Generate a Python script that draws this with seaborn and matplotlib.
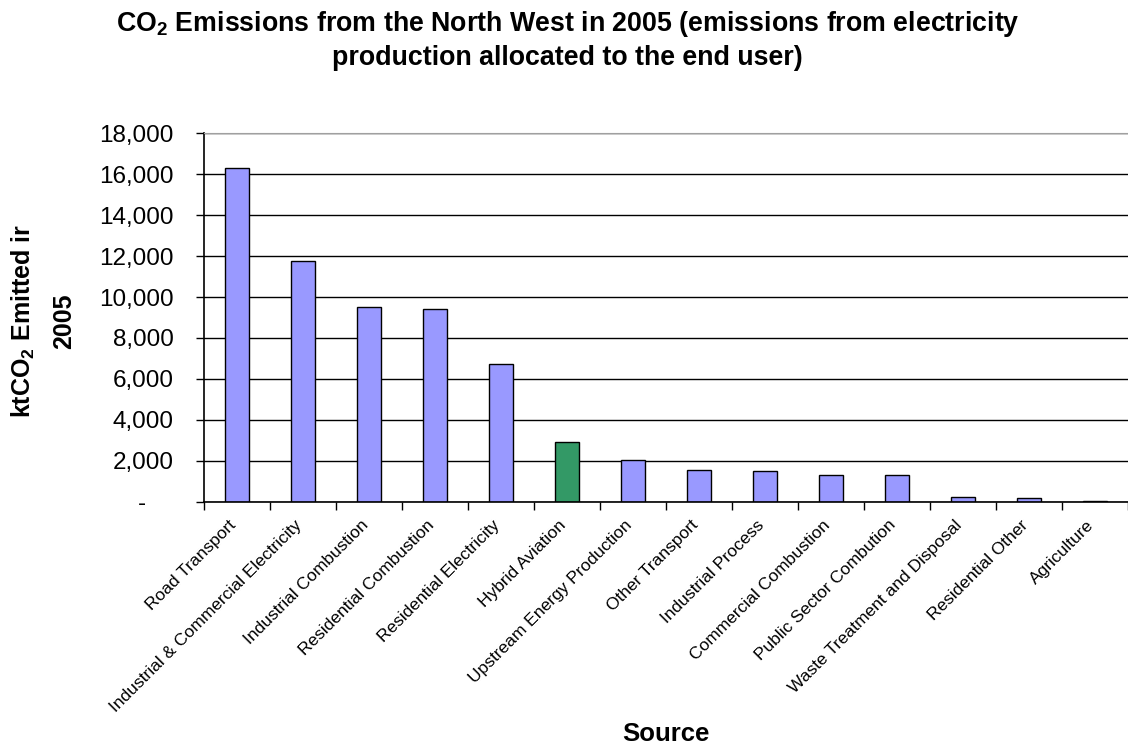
import numpy as np
import matplotlib
matplotlib.use("Agg")
import matplotlib.pyplot as plt
import seaborn as sns

# CO2 emissions by source, North West 2005 (ktCO2)
categories = [
    "Road Transport",
    "Industrial & Commercial Electricity",
    "Industrial Combustion",
    "Residential Combustion",
    "Residential Electricity",
    "Hybrid Aviation",
    "Upstream Energy Production",
    "Other Transport",
    "Industrial Process",
    "Commercial Combustion",
    "Public Sector Combution",
    "Waste Treatment and Disposal",
    "Residential Other",
    "Agriculture",
]
emissions = [16310, 11770, 9500, 9430, 6730, 2940, 2050, 1570, 1500,
             1310, 1300, 255, 190, 60]
bar_colors = ["#9999FF"] * 5 + ["#339966"] + ["#9999FF"] * 8
y_ticks = list(range(0, 18001, 2000))

sns.set_style("white")
plt.rcParams["font.family"] = ["Liberation Sans", "DejaVu Sans"]
plt.rcParams["text.color"] = "black"
plt.rcParams["axes.labelcolor"] = "black"
plt.rcParams["xtick.color"] = "black"
plt.rcParams["ytick.color"] = "black"
plt.rcParams["mathtext.fontset"] = "custom"
plt.rcParams["mathtext.rm"] = "Liberation Sans"
plt.rcParams["mathtext.bf"] = "Liberation Sans:bold"

fig = plt.figure(figsize=(11.28, 7.44), dpi=100)
ax = fig.add_axes([0.1809, 0.3253, 0.8191, 0.4959])

sns.barplot(x=categories, y=emissions, hue=categories, palette=bar_colors,
            legend=False, width=0.37, edgecolor="black", linewidth=1.0,
            saturation=1, ax=ax)

ax.set_xlim(-0.5, len(categories) - 0.5)
ax.set_ylim(0, 18000)
ax.set_yticks(y_ticks)
ax.set_yticklabels(["-    " if v == 0 else f"{v:,}" for v in y_ticks], fontsize=17.5)
ax.yaxis.grid(True, color="black", linewidth=1.0)
ax.set_axisbelow(True)

# category labels end just left of each bar centre (hidden major ticks);
# visible tick marks sit on the boundaries between categories
ax.set_xticks(np.arange(len(categories)) - 0.13)
ax.set_xticklabels(categories, rotation=45, ha="right", rotation_mode="anchor",
                   fontsize=12.5)
ax.set_xticks(np.arange(-0.5, len(categories), 1), minor=True)
ax.tick_params(axis="x", which="major", length=0, pad=11)
ax.tick_params(axis="x", which="minor", length=6, width=1, color="black",
               direction="out", bottom=True)
ax.tick_params(axis="y", length=6, width=1, color="black", direction="out",
               left=True, pad=16)

for s in ["left", "bottom"]:
    ax.spines[s].set_color("black")
    ax.spines[s].set_linewidth(1.2)
ax.spines["top"].set_color("#a0a0a0")
ax.spines["right"].set_visible(False)

ax.set_xlabel("Source", fontsize=18.5, fontweight="bold")
ax.xaxis.set_label_coords(0.5, -0.597)
ax.set_ylabel("ktCO$_\\mathbf{2}$ Emitted ir\n2005", fontsize=18,
              fontweight="bold", linespacing=1.75)
ax.yaxis.set_label_coords(-0.139, 0.49)

fig.text(0.503, 0.988,
         "CO$_\\mathbf{2}$ Emissions from the North West in 2005 (emissions from electricity\n"
         "production allocated to the end user)",
         ha="center", va="top", fontsize=19.3, fontweight="bold", linespacing=1.3)

fig.savefig("out.png", dpi=100)
